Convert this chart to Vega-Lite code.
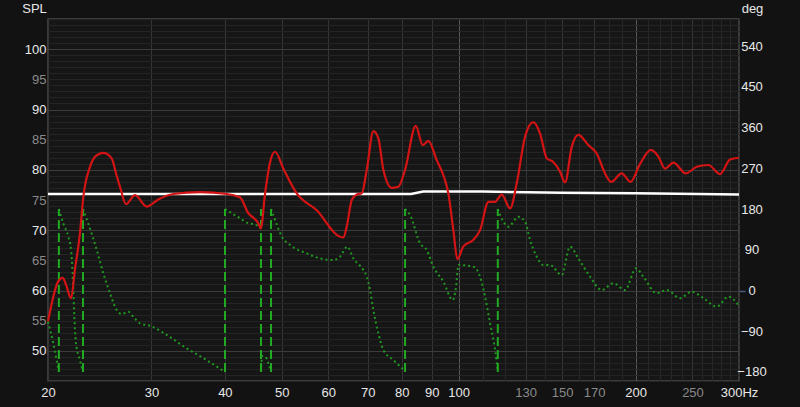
{
"$schema": "https://vega.github.io/schema/vega-lite/v6.json",
"width": 691, "height": 362,
"autosize": {"type": "none"},
"padding": {"left": 48, "top": 19, "right": 61, "bottom": 26},
"background": "#121212",
"config": {
  "view": {"fill": "#161616", "stroke": "#4a4a4a", "strokeWidth": 1.5},
  "font": "Liberation Sans",
  "axis": {"labelFont": "Liberation Sans", "labelFontSize": 13, "titleFont": "Liberation Sans", "titleFontSize": 13, "titleFontWeight": "normal", "domain": false, "ticks": false, "labelOverlap": false, "labelFlush": false, "labelBound": false}
},
"datasets": {
  "spl": [
    {"f":20.0,"db":54.9},{"f":20.82,"db":61.5},{"f":21.19,"db":62.1},{"f":21.46,"db":61.0},{"f":21.89,"db":58.7},{"f":22.23,"db":63.5},{"f":22.67,"db":69.5},{"f":22.97,"db":75.5},{"f":23.58,"db":80.5},{"f":24.14,"db":82.3},{"f":24.84,"db":82.8},{"f":25.67,"db":81.9},{"f":26.11,"db":79.4},{"f":26.52,"db":77.2},{"f":27.15,"db":74.3},{"f":28.13,"db":75.8},{"f":29.45,"db":73.9},{"f":30.81,"db":75.1},{"f":32.68,"db":76.0},{"f":36.29,"db":76.3},{"f":40.3,"db":76.0},{"f":42.46,"db":75.4},{"f":43.86,"db":72.8},{"f":45.03,"db":71.8},{"f":45.56,"db":71.2},{"f":46.05,"db":70.3},{"f":46.83,"db":76.1},{"f":47.76,"db":81.3},{"f":48.7,"db":83.0},{"f":50.31,"db":80.2},{"f":53.02,"db":76.1},{"f":57.34,"db":73.3},{"f":62.82,"db":68.9},{"f":63.64,"db":68.8},{"f":64.49,"db":70.6},{"f":65.77,"db":75.0},{"f":67.07,"db":75.9},{"f":68.4,"db":76.1},{"f":69.75,"db":80.0},{"f":71.58,"db":86.4},{"f":73.0,"db":85.2},{"f":74.44,"db":80.0},{"f":76.93,"db":77.0},{"f":78.95,"db":77.2},{"f":81.05,"db":80.0},{"f":84.52,"db":87.3},{"f":86.87,"db":84.1},{"f":88.8,"db":84.8},{"f":91.77,"db":81.6},{"f":94.18,"db":79.1},{"f":96.04,"db":76.1},{"f":97.94,"db":70.0},{"f":99.49,"db":65.2},{"f":101.86,"db":67.3},{"f":105.93,"db":68.4},{"f":108.75,"db":70.0},{"f":112.35,"db":74.7},{"f":115.34,"db":74.7},{"f":118.41,"db":75.9},{"f":122.33,"db":73.6},{"f":125.57,"db":77.8},{"f":129.73,"db":85.5},{"f":134.0,"db":87.9},{"f":137.57,"db":86.0},{"f":141.23,"db":81.9},{"f":144.92,"db":81.3},{"f":148.77,"db":79.7},{"f":151.72,"db":77.9},{"f":155.75,"db":83.8},{"f":159.83,"db":85.8},{"f":166.22,"db":84.1},{"f":171.79,"db":82.7},{"f":177.47,"db":79.4},{"f":181.69,"db":78.0},{"f":189.48,"db":79.4},{"f":196.12,"db":78.0},{"f":203.56,"db":81.0},{"f":212.52,"db":83.3},{"f":218.71,"db":82.2},{"f":224.52,"db":80.2},{"f":231.95,"db":81.2},{"f":243.5,"db":79.4},{"f":254.2,"db":80.5},{"f":266.0,"db":80.8},{"f":278.5,"db":79.3},{"f":289.7,"db":81.7},{"f":300,"db":82.0}
  ],
  "ref": [
    {"f":20,"db":76.0},{"f":83,"db":76.0},{"f":87,"db":76.4},{"f":110,"db":76.4},{"f":150,"db":76.2},{"f":200,"db":76.1},{"f":300,"db":75.9}
  ],
  "phase": [
    {"f":20.0,"deg":-69,"seg":1},{"f":20.42,"deg":-117,"seg":1},{"f":20.69,"deg":-154,"seg":1},{"f":20.87,"deg":-180,"seg":1},
    {"f":20.87,"deg":180,"seg":2},{"f":21.24,"deg":148,"seg":2},{"f":21.66,"deg":119,"seg":2},{"f":21.89,"deg":89.5,"seg":2},{"f":22.03,"deg":38,"seg":2},{"f":22.15,"deg":-43,"seg":2},{"f":22.32,"deg":-117,"seg":2},{"f":22.67,"deg":-154,"seg":2},{"f":22.94,"deg":-180,"seg":2},
    {"f":22.94,"deg":180,"seg":3},{"f":23.42,"deg":148,"seg":3},{"f":24.21,"deg":89.5,"seg":3},{"f":24.84,"deg":38,"seg":3},{"f":25.5,"deg":-6,"seg":3},{"f":26.18,"deg":-43,"seg":3},{"f":26.7,"deg":-52,"seg":3},{"f":27.4,"deg":-47,"seg":3},{"f":27.94,"deg":-58,"seg":3},{"f":28.68,"deg":-72.5,"seg":3},{"f":29.83,"deg":-78,"seg":3},{"f":31.84,"deg":-98,"seg":3},{"f":34.44,"deg":-128,"seg":3},{"f":37.25,"deg":-154,"seg":3},{"f":40.02,"deg":-180,"seg":3},
    {"f":40.02,"deg":180,"seg":4},{"f":42.46,"deg":159.5,"seg":4},{"f":43.86,"deg":148.5,"seg":4},{"f":45.03,"deg":146,"seg":4},{"f":46.05,"deg":137.5,"seg":4},
    {"f":46.08,"deg":-180,"seg":5},{"f":46.28,"deg":-145,"seg":5},{"f":46.83,"deg":-146,"seg":5},{"f":47.44,"deg":-161,"seg":5},{"f":47.93,"deg":-180,"seg":5},
    {"f":47.93,"deg":180,"seg":6},{"f":48.7,"deg":156,"seg":6},{"f":50.0,"deg":119,"seg":6},{"f":51.65,"deg":100.5,"seg":6},{"f":55.14,"deg":82,"seg":6},{"f":58.08,"deg":71,"seg":6},{"f":61.19,"deg":67.4,"seg":6},{"f":62.82,"deg":74.7,"seg":6},{"f":64.64,"deg":96.8,"seg":6},{"f":66.18,"deg":71,"seg":6},{"f":68.83,"deg":45,"seg":6},{"f":69.75,"deg":30.5,"seg":6},{"f":70.66,"deg":1,"seg":6},{"f":71.58,"deg":-43,"seg":6},{"f":73.0,"deg":-94.6,"seg":6},{"f":74.44,"deg":-131.5,"seg":6},{"f":77.42,"deg":-153.6,"seg":6},{"f":81.05,"deg":-178,"seg":6},
    {"f":81.05,"deg":180,"seg":7},{"f":82.65,"deg":167,"seg":7},{"f":85.96,"deg":104,"seg":7},{"f":88.24,"deg":89.5,"seg":7},{"f":90.55,"deg":52.6,"seg":7},{"f":94.18,"deg":19.5,"seg":7},{"f":97.71,"deg":-21,"seg":7},{"f":98.99,"deg":8.4,"seg":7},{"f":99.88,"deg":56.4,"seg":7},{"f":101.62,"deg":56,"seg":7},{"f":105.93,"deg":52.6,"seg":7},{"f":108.75,"deg":30.5,"seg":7},{"f":110.9,"deg":-13.7,"seg":7},{"f":113.1,"deg":-72.5,"seg":7},{"f":115.34,"deg":-131.5,"seg":7},{"f":116.57,"deg":-178,"seg":7},
    {"f":116.57,"deg":180,"seg":8},{"f":119.13,"deg":152,"seg":8},{"f":121.51,"deg":141,"seg":8},{"f":126.37,"deg":163,"seg":8},{"f":129.73,"deg":152,"seg":8},{"f":132.28,"deg":111.6,"seg":8},{"f":135.8,"deg":74.7,"seg":8},{"f":139.35,"deg":56.4,"seg":8},{"f":143.05,"deg":56.4,"seg":8},{"f":149.77,"deg":34,"seg":8},{"f":154.72,"deg":96.8,"seg":8},{"f":159.83,"deg":71,"seg":8},{"f":167.33,"deg":30.5,"seg":8},{"f":175.18,"deg":1,"seg":8},{"f":183.35,"deg":16,"seg":8},{"f":191.94,"deg":1,"seg":8},{"f":200.4,"deg":49,"seg":8},{"f":206.2,"deg":30.5,"seg":8},{"f":217.3,"deg":-6,"seg":8},{"f":226.0,"deg":1,"seg":8},{"f":238.1,"deg":-17,"seg":8},{"f":249.3,"deg":-2.6,"seg":8},{"f":260.9,"deg":-17,"seg":8},{"f":275.0,"deg":-35.7,"seg":8},{"f":287.7,"deg":-13.7,"seg":8},{"f":300,"deg":-34,"seg":8}
  ],
  "wraps": [
    {"f":20.87,"lo":-180,"hi":180},{"f":22.94,"lo":-180,"hi":180},{"f":40.02,"lo":-180,"hi":180},{"f":46.08,"lo":-180,"hi":180},{"f":47.93,"lo":-180,"hi":180},{"f":81.05,"lo":-180,"hi":180},{"f":116.57,"lo":-180,"hi":180}
  ]
},
"layer": [
  {
    "layer": [
      {
        "data": {"name": "phase"},
        "mark": {"type": "line", "color": "#1f9a1f", "strokeWidth": 2, "strokeDash": [2, 3], "interpolate": "monotone"},
        "encoding": {
          "x": {"field": "f", "type": "quantitative", "scale": {"type": "log", "domain": [20, 300], "nice": false},
            "axis": {"values": [20,30,40,50,60,70,80,90,100,110,120,130,140,150,160,170,180,190,200,210,220,230,240,250,260,270,280,290,300],
              "title": null, "grid": true, "labelOverlap": false,
              "gridColor": {"condition": [{"test": "datum.value == 100 || datum.value == 200", "value": "#575757"}, {"test": "datum.value <= 100 || datum.value == 130 || datum.value == 150 || datum.value == 170 || datum.value == 250 || datum.value == 300", "value": "#363636"}], "value": "#272727"},
              "labelExpr": "datum.value == 300 ? '300Hz' : ((datum.value <= 100 || datum.value == 130 || datum.value == 150 || datum.value == 170 || datum.value == 200 || datum.value == 250) ? toString(datum.value) : '')",
              "labelColor": {"condition": {"test": "datum.value == 130 || datum.value == 150 || datum.value == 170 || datum.value == 250", "value": "#8a8a8a"}, "value": "#e8e8e8"},
              "labelPadding": 5}},
          "y": {"field": "deg", "type": "quantitative", "scale": {"domain": [-200, 600], "nice": false, "zero": false},
            "axis": {"orient": "right", "values": [-180,-90,0,90,180,270,360,450,540], "title": "deg", "titleAngle": 0, "titleX": 13, "titleY": -10.5, "titleAlign": "center", "titleBaseline": "middle", "titleColor": "#e8e8e8", "grid": false, "labelOverlap": false, "ticks": true, "tickSize": 6, "tickWidth": 1.5, "tickColor": {"condition": {"test": "datum.value == 0", "value": "#4a5a80"}, "value": "transparent"}, "labelAlign": "center", "labelPadding": 6.5, "labelColor": "#e8e8e8"}},
          "detail": {"field": "seg", "type": "nominal"}
        }
      },
      {
        "data": {"name": "wraps"},
        "mark": {"type": "rule", "color": "#22aa22", "strokeWidth": 2, "strokeDash": [9, 4]},
        "encoding": {
          "x": {"field": "f", "type": "quantitative", "scale": {"type": "log", "domain": [20, 300], "nice": false}},
          "y": {"field": "lo", "type": "quantitative", "scale": {"domain": [-200, 600], "nice": false, "zero": false},
            "axis": {"orient": "right", "values": [-180,-90,0,90,180,270,360,450,540], "title": "deg", "titleAngle": 0, "titleX": 13, "titleY": -10.5, "titleAlign": "center", "titleBaseline": "middle", "titleColor": "#e8e8e8", "grid": false, "labelOverlap": false, "ticks": true, "tickSize": 6, "tickWidth": 1.5, "tickColor": {"condition": {"test": "datum.value == 0", "value": "#4a5a80"}, "value": "transparent"}, "labelAlign": "center", "labelPadding": 6.5, "labelColor": "#e8e8e8"}},
          "y2": {"field": "hi"}
        }
      }
    ]
  },
  {
    "layer": [
      {
        "data": {"name": "ref"},
        "mark": {"type": "line", "color": "#ffffff", "strokeWidth": 2.5},
        "encoding": {
          "x": {"field": "f", "type": "quantitative", "scale": {"type": "log", "domain": [20, 300], "nice": false}},
          "y": {"field": "db", "type": "quantitative", "scale": {"domain": [45, 105], "nice": false, "zero": false},
            "axis": {"orient": "left", "values": [45,46,47,48,49,50,51,52,53,54,55,56,57,58,59,60,61,62,63,64,65,66,67,68,69,70,71,72,73,74,75,76,77,78,79,80,81,82,83,84,85,86,87,88,89,90,91,92,93,94,95,96,97,98,99,100,101,102,103,104,105],
              "title": "SPL", "titleAngle": 0, "titleX": -14, "titleY": -10.5, "titleAlign": "center", "titleBaseline": "middle", "titleColor": "#e8e8e8",
              "grid": true, "labelOverlap": false, "gridColor": {"condition": {"test": "datum.value % 10 == 0", "value": "#3c3c3c"}, "value": "#242424"},
              "labelExpr": "(datum.value % 5 == 0 && datum.value >= 50 && datum.value <= 100) ? toString(datum.value) : ''",
              "labelColor": {"condition": {"test": "datum.value % 10 == 0", "value": "#e8e8e8"}, "value": "#8a8a8a"},
              "labelPadding": 2}}
        }
      },
      {
        "data": {"name": "spl"},
        "mark": {"type": "line", "color": "#d41414", "strokeWidth": 2.2, "interpolate": "monotone"},
        "encoding": {
          "x": {"field": "f", "type": "quantitative", "scale": {"type": "log", "domain": [20, 300], "nice": false}},
          "y": {"field": "db", "type": "quantitative", "scale": {"domain": [45, 105], "nice": false, "zero": false},
            "axis": {"orient": "left", "values": [45,46,47,48,49,50,51,52,53,54,55,56,57,58,59,60,61,62,63,64,65,66,67,68,69,70,71,72,73,74,75,76,77,78,79,80,81,82,83,84,85,86,87,88,89,90,91,92,93,94,95,96,97,98,99,100,101,102,103,104,105],
              "title": "SPL", "titleAngle": 0, "titleX": -14, "titleY": -10.5, "titleAlign": "center", "titleBaseline": "middle", "titleColor": "#e8e8e8",
              "grid": true, "labelOverlap": false, "gridColor": {"condition": {"test": "datum.value % 10 == 0", "value": "#3c3c3c"}, "value": "#242424"},
              "labelExpr": "(datum.value % 5 == 0 && datum.value >= 50 && datum.value <= 100) ? toString(datum.value) : ''",
              "labelColor": {"condition": {"test": "datum.value % 10 == 0", "value": "#e8e8e8"}, "value": "#8a8a8a"},
              "labelPadding": 2}}
        }
      }
    ]
  }
],
"resolve": {"scale": {"y": "independent"}, "axis": {"y": "independent"}}
}
